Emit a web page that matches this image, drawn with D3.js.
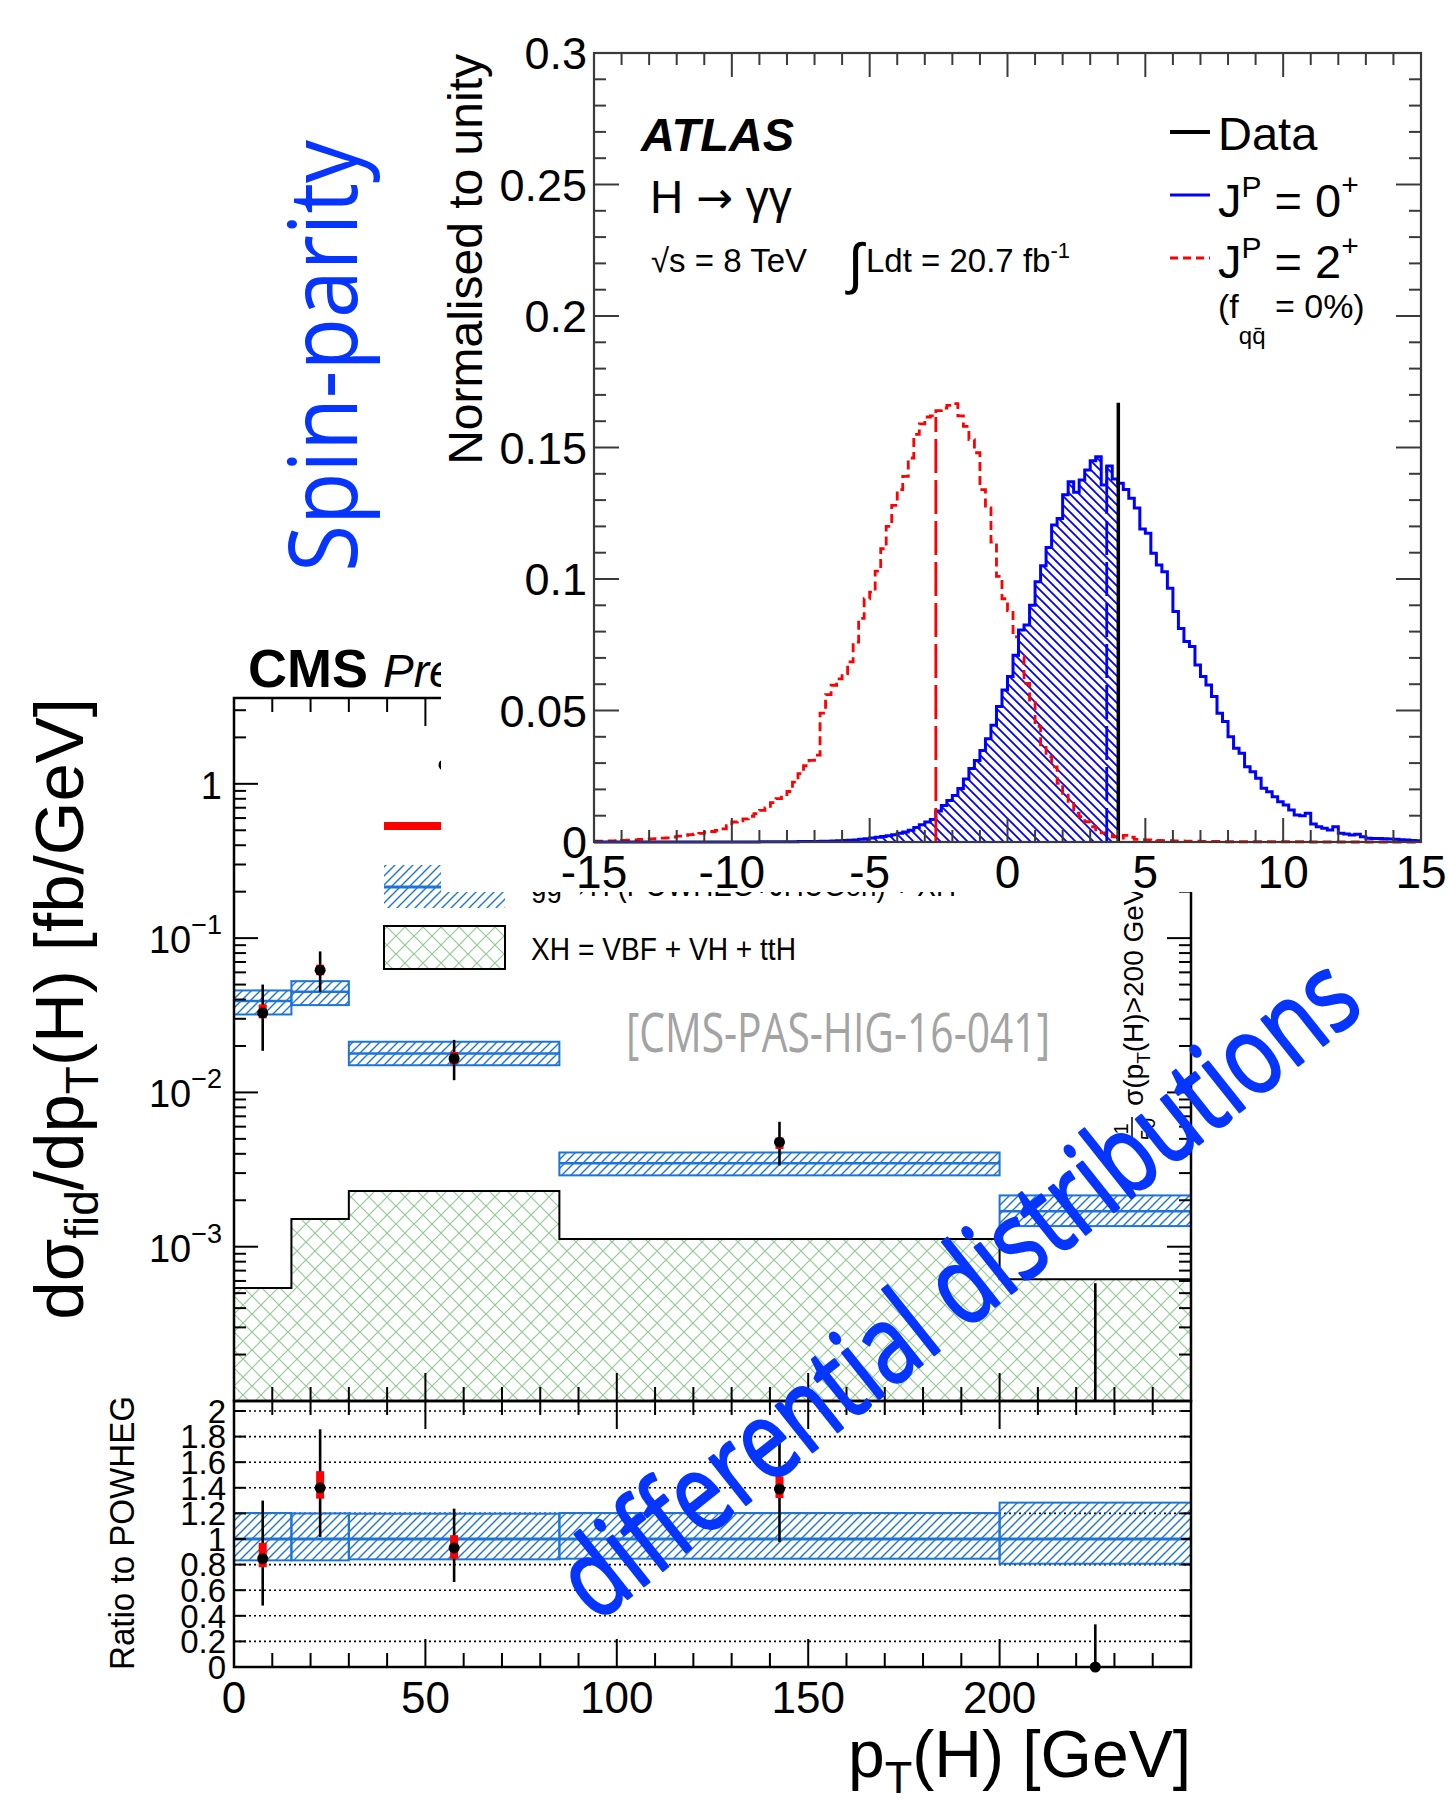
<!DOCTYPE html>
<html lang="en">
<head>
<meta charset="UTF-8">
<title>Spin-parity and differential distributions</title>
<script src="https://cdnjs.cloudflare.com/ajax/libs/d3/7.8.5/d3.min.js"></script>
<style>
  body { margin: 0; background: #fff; }
  svg text { font-family: "Liberation Sans", Arial, sans-serif; }
  .blue-big { font-family: "Open Sans", "Noto Sans", sans-serif !important; fill: #0535ff; }
</style>
</head>
<body>
<script>
// ---------------- CMS: fiducial dsigma/dpT(H) ----------------
const ptEdges   = [0, 15, 30, 85, 200, 250];
const ptCenters = [7.5, 22.5, 57.5, 142.5, 225];
const xsec      = [0.0328, 0.062, 0.0166, 0.00476, 0];
const xsecLo    = [0.0186, 0.0449, 0.0120, 0.00336, 0];
const xsecHi    = [0.050, 0.082, 0.0219, 0.00645, 0.00058];
const xsecSysLo = [0.0302, 0.0575, 0.0152, 0.0043, null];
const xsecSysHi = [0.0372, 0.0673, 0.0183, 0.0051, null];
const predMid   = [0.0391, 0.0449, 0.0179, 0.00347, 0.0017];
const predLo    = [0.0320, 0.0368, 0.0150, 0.0029, 0.00136];
const predHi    = [0.0458, 0.0526, 0.0213, 0.00408, 0.00215];
const xhVals    = [0.00054, 0.00151, 0.0023, 0.00112, 0.000615];
// ratio to POWHEG
const ratio      = [0.846, 1.40, 0.93, 1.39, 0];
const ratioLo    = [0.48, 1.016, 0.664, 0.977, 0];
const ratioHi    = [1.30, 1.857, 1.237, 1.83, 0.333];
const ratioSysLo = [0.78, 1.315, 0.846, 1.32, null];
const ratioSysHi = [0.97, 1.53, 1.03, 1.49, null];
const bandLo     = [0.833, 0.833, 0.841, 0.846, 0.807];
const bandHi     = [1.203, 1.200, 1.198, 1.203, 1.284];
const ptTicks    = [0, 50, 100, 150, 200];
const ratioTicks = [0, 0.2, 0.4, 0.6, 0.8, 1, 1.2, 1.4, 1.6, 1.8, 2];
const logLabels  = [[1, ""], [0.1, "\u22121"], [0.01, "\u22122"], [0.001, "\u22123"]];

// ---------------- ATLAS: test statistic q, H -> gamma gamma ----------------
const qLo = -15, qStep = 0.2;
const spin0 = [
  0,0,0,0,0,0,0,0,0,0,
  0,0,0,0,0,0,0,0,0,0,
  0,0,0,0,0,0,0,0,0,0,
  0.0001,0.0001,0.0001,0.0001,0.0001,0.0001,0.0001,0.0002,0.0002,0.0002,
  0.0002,0.0003,0.0003,0.0004,0.0005,0.0006,0.0007,0.0008,0.0010,0.0012,
  0.0015,0.0018,0.0021,0.0024,0.0028,0.0033,0.0038,0.0045,0.0055,0.0066,
  0.0076,0.0086,0.0118,0.0139,0.0158,0.0177,0.0203,0.0240,0.0279,0.0310,
  0.0348,0.0393,0.0444,0.0515,0.0578,0.0629,0.0710,0.0806,0.0825,0.0900,
  0.0990,0.1050,0.1120,0.1205,0.1230,0.1320,0.1370,0.1330,0.1376,0.1414,
  0.1450,0.1465,0.1357,0.1430,0.1380,0.1364,0.1340,0.1307,0.1270,0.1190,
  0.1174,0.1098,0.1053,0.1028,0.0965,0.0876,0.0812,0.0762,0.0743,0.0673,
  0.0629,0.0597,0.0553,0.0490,0.0458,0.0400,0.0356,0.0337,0.0286,0.0267,
  0.0242,0.0204,0.0191,0.0172,0.0153,0.0141,0.0122,0.0103,0.0100,0.0109,
  0.0068,0.0058,0.0052,0.0046,0.0058,0.0033,0.0030,0.0027,0.0029,0.0020,
  0.0014,0.0013,0.0013,0.0012,0.0011,0.0010,0.0009,0.0008,0.0006,0.0005
];
const spin2 = [
  0.0003,0.0003,0.0004,0.0004,0.0005,0.0006,0.0007,0.0008,0.0010,0.0011,
  0.0012,0.0013,0.0015,0.0016,0.0019,0.0022,0.0025,0.0028,0.0030,0.0033,
  0.0037,0.0040,0.0044,0.0050,0.0062,0.0076,0.0080,0.0088,0.0098,0.0108,
  0.0120,0.0130,0.0150,0.0165,0.0180,0.0192,0.0228,0.0260,0.0290,0.0310,
  0.0330,0.0490,0.0560,0.0596,0.0620,0.0640,0.0685,0.0760,0.0850,0.0925,
  0.0950,0.1030,0.1115,0.1200,0.1280,0.1340,0.1390,0.1460,0.1550,0.1590,
  0.1616,0.1620,0.1640,0.1650,0.1660,0.1667,0.1620,0.1580,0.1530,0.1480,
  0.1340,0.1270,0.1140,0.1010,0.0925,0.0880,0.0780,0.0705,0.0603,0.0540,
  0.0440,0.0360,0.0325,0.0286,0.0223,0.0185,0.0147,0.0110,0.0096,0.0077,
  0.0058,0.0046,0.0035,0.0027,0.0020,0.0015,0.0025,0.0018,0.0010,0.0009,
  0.0008,0.0007,0.0006,0.0005,0.0005,0.0004,0.0004,0.0003,0.0003,0.0003,
  0.0002,0.0002,0.0002,0.0002,0.0001,0.0001,0.0001,0.0001,0.0001,0.0001,
  0.0001,0.0001,0.0001,0.0001,0.0001,0.0001,0.0001,0.0001,0.0001,0.0001,
  0,0,0,0,0,0,0,0,0,0,
  0,0,0,0,0,0,0,0,0,0
];
const qData = 4.02, qDataH = 0.167;
const medianQ = [-2.6, 3.6];
const medianH = [0.1616, 0.143];
const qTicks = [-15, -10, -5, 0, 5, 10, 15];
const normTicks = [0, 0.05, 0.1, 0.15, 0.2, 0.25, 0.3];

const svg = d3.select("body").append("svg").attr("width", 1448).attr("height", 1809);
const defs = svg.append("defs");
function hatch(id, size, d, color, w) {
  defs.append("pattern").attr("id", id).attr("patternUnits", "userSpaceOnUse")
    .attr("width", size).attr("height", size)
    .append("path").attr("d", d).attr("stroke", color).attr("stroke-width", w).attr("fill", "none");
}
const bandBlue = "#1c74d4";
hatch("cmsHatch", 9, "M-1,1L1,-1M0,9L9,0M8,10L10,8", bandBlue, 1.4);
hatch("xhHatch", 18, "M0,0L18,18M0,18L18,0", "#93c993", 1.2);
hatch("atlasHatch", 9, "M-1,8L1,10M0,0L9,9M8,-1L10,1", "#0000ff", 1.8);

function line(g, x1, y1, x2, y2, color, w) {
  return g.append("line").attr("x1", x1).attr("y1", y1).attr("x2", x2).attr("y2", y2)
    .attr("stroke", color).attr("stroke-width", w);
}

// ================= CMS =================
const cms = svg.append("g");
const cx = d3.scaleLinear().domain([0, 250]).range([234, 1191]);
const cy = d3.scaleLog().domain([1e-4, 3.6]).range([1401, 698]).clamp(true);
const ry = d3.scaleLinear().domain([0, 2.078]).range([1667, 1401]);
const yBot = cy(1e-4);

// XH stack
xhVals.forEach((v, i) => {
  cms.append("rect").attr("x", cx(ptEdges[i])).attr("y", cy(v))
    .attr("width", cx(ptEdges[i + 1]) - cx(ptEdges[i])).attr("height", yBot - cy(v))
    .attr("fill", "url(#xhHatch)");
});
let xhPath = `M${cx(0)},${cy(xhVals[0])}`;
xhVals.forEach((v, i) => { xhPath += `V${cy(v)}H${cx(ptEdges[i + 1])}`; });
cms.append("path").attr("d", xhPath).attr("fill", "none").attr("stroke", "#000").attr("stroke-width", 2);

// gg->H + XH bands
predMid.forEach((m, i) => {
  const x0 = cx(ptEdges[i]), x1 = cx(ptEdges[i + 1]);
  cms.append("rect").attr("x", x0).attr("y", cy(predHi[i])).attr("width", x1 - x0)
    .attr("height", cy(predLo[i]) - cy(predHi[i]))
    .attr("fill", "url(#cmsHatch)").attr("stroke", bandBlue).attr("stroke-width", 2);
  line(cms, x0, cy(m), x1, cy(m), bandBlue, 2.5);
});

// data, upper pad
xsec.forEach((v, i) => {
  const x = cx(ptCenters[i]);
  line(cms, x, cy(xsecLo[i]), x, cy(xsecHi[i]), "#000", 2.6);
  if (xsecSysLo[i] != null)
    cms.append("rect").attr("x", x - 4).attr("y", cy(xsecSysHi[i])).attr("width", 8)
      .attr("height", cy(xsecSysLo[i]) - cy(xsecSysHi[i])).attr("fill", "#ff0000");
  if (v > 0) cms.append("circle").attr("cx", x).attr("cy", cy(v)).attr("r", 5.5).attr("fill", "#000");
});

// ratio pad: grid, bands, data
ratioTicks.filter(t => t > 0).forEach(t => {
  line(cms, cx(0), ry(t), cx(250), ry(t), "#000", 1.6).attr("stroke-dasharray", "2,3");
});
bandLo.forEach((lo, i) => {
  const x0 = cx(ptEdges[i]), x1 = cx(ptEdges[i + 1]);
  cms.append("rect").attr("x", x0).attr("y", ry(bandHi[i])).attr("width", x1 - x0)
    .attr("height", ry(lo) - ry(bandHi[i]))
    .attr("fill", "url(#cmsHatch)").attr("stroke", bandBlue).attr("stroke-width", 2);
  line(cms, x0, ry(1), x1, ry(1), bandBlue, 3);
});
ratio.forEach((v, i) => {
  const x = cx(ptCenters[i]);
  line(cms, x, ry(ratioLo[i]), x, ry(ratioHi[i]), "#000", 2.6);
  if (ratioSysLo[i] != null)
    cms.append("rect").attr("x", x - 4).attr("y", ry(ratioSysHi[i])).attr("width", 8)
      .attr("height", ry(ratioSysLo[i]) - ry(ratioSysHi[i])).attr("fill", "#ff0000");
  cms.append("circle").attr("cx", x).attr("cy", ry(v)).attr("r", 5.5).attr("fill", "#000");
});

// frames
cms.append("rect").attr("x", cx(0)).attr("y", cy(3.6)).attr("width", cx(250) - cx(0))
  .attr("height", yBot - cy(3.6)).attr("fill", "none").attr("stroke", "#000").attr("stroke-width", 2.5);
cms.append("rect").attr("x", cx(0)).attr("y", ry(2.078)).attr("width", cx(250) - cx(0))
  .attr("height", ry(0) - ry(2.078)).attr("fill", "none").attr("stroke", "#000").attr("stroke-width", 2.5);

// x ticks on both pads
d3.range(0, 251, 10).forEach(v => {
  const x = cx(v), major = v % 50 === 0, L = major ? 28 : 14;
  [[cy(3.6), 1], [yBot, -1], [ry(2.078), 1], [ry(0), -1]].forEach(([y0, s]) => {
    line(cms, x, y0, x, y0 + s * L, "#000", 2);
  });
});
// log y ticks, left and right
for (let e = -4; e <= 0; e++) {
  for (let k = 1; k <= 9; k++) {
    const v = k * Math.pow(10, e);
    if (v < 1e-4 || v > 3.6) continue;
    const L = k === 1 ? 24 : 12;
    line(cms, cx(0), cy(v), cx(0) + L, cy(v), "#000", 2);
    line(cms, cx(250), cy(v), cx(250) - L, cy(v), "#000", 2);
  }
}
ratioTicks.forEach(t => {
  line(cms, cx(0), ry(t), cx(0) + 12, ry(t), "#000", 2);
  line(cms, cx(250), ry(t), cx(250) - 10, ry(t), "#000", 2);
});

// labels
ptTicks.forEach(t => {
  cms.append("text").attr("x", cx(t)).attr("y", 1713).attr("text-anchor", "middle")
    .attr("font-size", 44).text(t);
});
ratioTicks.forEach(t => {
  cms.append("text").attr("x", 226).attr("y", ry(t)).attr("dy", "0.36em").attr("text-anchor", "end")
    .attr("font-size", 33).text(t);
});
logLabels.forEach(([v, sup]) => {
  const t = cms.append("text").attr("x", 222).attr("y", cy(v) + 15).attr("text-anchor", "end").attr("font-size", 38);
  if (sup === "") { t.text("1"); return; }
  t.append("tspan").text("10");
  t.append("tspan").attr("dy", -19).attr("font-size", 27).text(sup);
});

// axis titles
const yt = cms.append("text").attr("transform", "translate(83,698) rotate(-90)")
  .attr("text-anchor", "end").attr("font-size", 69);
yt.append("tspan").text("d\u03c3");
yt.append("tspan").attr("dy", 15).attr("font-size", 46).text("fid");
yt.append("tspan").attr("dy", -15).text("/dp");
yt.append("tspan").attr("dy", 15).attr("font-size", 46).text("T");
yt.append("tspan").attr("dy", -15).text("(H) [fb/GeV]");

cms.append("text").attr("transform", "translate(134,1396) rotate(-90)")
  .attr("text-anchor", "end").attr("font-size", 35)
  .attr("textLength", 274).attr("lengthAdjust", "spacingAndGlyphs").text("Ratio to POWHEG");

const xt = cms.append("text").attr("x", 1191).attr("y", 1777).attr("text-anchor", "end").attr("font-size", 66);
xt.append("tspan").text("p");
xt.append("tspan").attr("dy", 16).attr("font-size", 45).text("T");
xt.append("tspan").attr("dy", -16).text("(H) [GeV]");

// title
cms.append("text").attr("x", 248).attr("y", 687).attr("font-size", 54).attr("font-weight", "bold").text("CMS");
cms.append("text").attr("x", 383).attr("y", 687).attr("font-size", 46).attr("font-style", "italic").text("Preliminary");

// legend (mostly covered by the ATLAS inset)
cms.append("circle").attr("cx", 444).attr("cy", 765).attr("r", 5.5).attr("fill", "#000");
cms.append("rect").attr("x", 384).attr("y", 822).attr("width", 121).attr("height", 8).attr("fill", "#ff0000");
cms.append("rect").attr("x", 384).attr("y", 865).attr("width", 121).attr("height", 43).attr("fill", "url(#cmsHatch)");
line(cms, 384, 887, 505, 887, bandBlue, 3);
cms.append("text").attr("x", 531).attr("y", 896).attr("font-size", 32)
  .attr("textLength", 425).attr("lengthAdjust", "spacingAndGlyphs").text("gg\u2192H (POWHEG+JHUGen) + XH");
cms.append("rect").attr("x", 384).attr("y", 926).attr("width", 121).attr("height", 43)
  .attr("fill", "url(#xhHatch)").attr("stroke", "#000").attr("stroke-width", 2);
cms.append("text").attr("x", 531).attr("y", 960).attr("font-size", 32)
  .attr("textLength", 265).attr("lengthAdjust", "spacingAndGlyphs").text("XH = VBF + VH + ttH");

cms.append("text").attr("x", 626).attr("y", 1052).attr("font-size", 54).attr("fill", "#a3a3a3")
  .style("font-family", "'Open Sans', sans-serif")
  .attr("textLength", 424).attr("lengthAdjust", "spacingAndGlyphs").text("[CMS-PAS-HIG-16-041]");

// right-hand overflow axis title
const ov = cms.append("g").attr("transform", "translate(1143,1150) rotate(-90)");
ov.append("text").attr("x", 21).attr("y", -15).attr("text-anchor", "middle").attr("font-size", 20).text("1");
line(ov, 9, -11, 33, -11, "#000", 1.5);
ov.append("text").attr("x", 21).attr("y", 12).attr("text-anchor", "middle").attr("font-size", 20).text("50");
const ovt = ov.append("text").attr("x", 44).attr("y", 0).attr("font-size", 28);
ovt.append("tspan").text("\u03c3(p");
ovt.append("tspan").attr("dy", 7).attr("font-size", 19).text("T");
ovt.append("tspan").attr("dy", -7).text("(H)>200 GeV)");

// ================= ATLAS inset =================
const at = svg.append("g");
at.append("rect").attr("x", 441).attr("y", 0).attr("width", 1007).attr("height", 892).attr("fill", "#fff");
const ax = d3.scaleLinear().domain([-15, 15]).range([594, 1421]);
const ay = d3.scaleLinear().domain([0, 0.3]).range([842, 53]);
const qEdges = d3.range(spin0.length + 1).map(i => qLo + i * qStep);

function stepPath(vals) {
  let p = `M${ax(qEdges[0])},${ay(vals[0])}`;
  vals.forEach((v, i) => { p += `V${ay(v)}H${ax(qEdges[i + 1])}`; });
  return p;
}
// hatched area of the 0+ expectation below the observed value
let hp = `M${ax(qEdges[0])},${ay(0)}`;
spin0.forEach((v, i) => {
  if (qEdges[i] >= qData) return;
  hp += `V${ay(v)}H${ax(Math.min(qEdges[i + 1], qData))}`;
});
hp += `V${ay(0)}Z`;
at.append("path").attr("d", hp).attr("fill", "url(#atlasHatch)");

at.append("path").attr("d", stepPath(spin2)).attr("fill", "none").attr("stroke", "#ff0000")
  .attr("stroke-width", 2.8).attr("stroke-dasharray", "9,5");
at.append("path").attr("d", stepPath(spin0)).attr("fill", "none").attr("stroke", "#0000ff").attr("stroke-width", 3);
line(at, ax(medianQ[0]), ay(0), ax(medianQ[0]), ay(medianH[0]), "#ff0000", 2.8).attr("stroke-dasharray", "34,7");
line(at, ax(medianQ[1]), ay(0), ax(medianQ[1]), ay(medianH[1]), "#0000ff", 2.8).attr("stroke-dasharray", "34,7");
line(at, ax(qData), ay(0), ax(qData), ay(qDataH), "#000", 3.5);

// frame and ticks
const fr = "#3a3a3a";
at.append("rect").attr("x", ax(-15)).attr("y", ay(0.3)).attr("width", ax(15) - ax(-15))
  .attr("height", ay(0) - ay(0.3)).attr("fill", "none").attr("stroke", fr).attr("stroke-width", 2.2);
d3.range(-15, 15.5, 1).forEach(v => {
  const L = v % 5 === 0 ? 24 : 12;
  line(at, ax(v), ay(0), ax(v), ay(0) - L, fr, 2);
  line(at, ax(v), ay(0.3), ax(v), ay(0.3) + L, fr, 2);
});
d3.range(0, 31, 1).forEach(k => {
  const v = k / 100, L = k % 5 === 0 ? 25 : 12;
  line(at, ax(-15), ay(v), ax(-15) + L, ay(v), fr, 2);
  line(at, ax(15), ay(v), ax(15) - L, ay(v), fr, 2);
});
normTicks.forEach(t => {
  at.append("text").attr("x", 587).attr("y", ay(t)).attr("dy", "0.36em").attr("text-anchor", "end")
    .attr("font-size", 45).text(t);
});
qTicks.forEach(t => {
  at.append("text").attr("x", ax(t)).attr("y", 888).attr("text-anchor", "middle")
    .attr("font-size", 46).text(t);
});
at.append("text").attr("transform", "translate(482,54) rotate(-90)").attr("text-anchor", "end")
  .attr("font-size", 48).text("Normalised to unity");

// labels
at.append("text").attr("x", 641).attr("y", 151).attr("font-size", 47)
  .attr("font-weight", "bold").attr("font-style", "italic").text("ATLAS");
const hgg = at.append("text").attr("x", 650).attr("y", 213).attr("font-size", 46);
hgg.append("tspan").text("H ");
hgg.append("tspan").style("font-family", "'DejaVu Sans', sans-serif").attr("font-size", 44).text("\u2192");
hgg.append("tspan").text(" \u03b3\u03b3");
at.append("text").attr("x", 651).attr("y", 272).attr("font-size", 33).text("\u221as = 8 TeV");
at.append("text").attr("x", 848).attr("y", 283).attr("font-size", 56).text("\u222b");
const lum = at.append("text").attr("x", 866).attr("y", 272).attr("font-size", 33);
lum.append("tspan").text("Ldt = 20.7 fb");
lum.append("tspan").attr("dy", -14).attr("font-size", 22).text("-1");

// legend
line(at, 1170, 132, 1210, 132, "#000", 4);
at.append("text").attr("x", 1218).attr("y", 150).attr("font-size", 47).text("Data");
line(at, 1170, 195, 1210, 195, "#0000ff", 2.8);
line(at, 1170, 258, 1210, 258, "#ff0000", 2.8).attr("stroke-dasharray", "8,5");
[[217, "0"], [278, "2"]].forEach(([y, s]) => {
  const t = at.append("text").attr("x", 1218).attr("y", y).attr("font-size", 47);
  t.append("tspan").text("J");
  t.append("tspan").attr("dy", -20).attr("font-size", 30).text("P");
  t.append("tspan").attr("dy", 20).text(" = " + s);
  t.append("tspan").attr("dy", -22).attr("font-size", 30).text("+");
});
const fq = at.append("text").attr("x", 1218).attr("y", 318).attr("font-size", 34);
fq.append("tspan").text("(f");
fq.append("tspan").attr("dy", 26).attr("font-size", 24).text("q\u0071\u0304");
fq.append("tspan").attr("dy", -26).text(" = 0%)");

// ================= overlay titles =================
svg.append("text").attr("class", "blue-big").attr("transform", "translate(357,572) rotate(-90)")
  .attr("font-size", 95).attr("textLength", 432).attr("lengthAdjust", "spacingAndGlyphs").text("Spin-parity");
svg.append("text").attr("class", "blue-big").attr("transform", "translate(596,1624) rotate(-38.5)")
  .attr("font-size", 110).attr("textLength", 985).attr("lengthAdjust", "spacingAndGlyphs")
  .attr("stroke", "#0535ff").attr("stroke-width", 2.5).attr("stroke-linejoin", "round")
  .text("differential distributions");
</script>
</body>
</html>
